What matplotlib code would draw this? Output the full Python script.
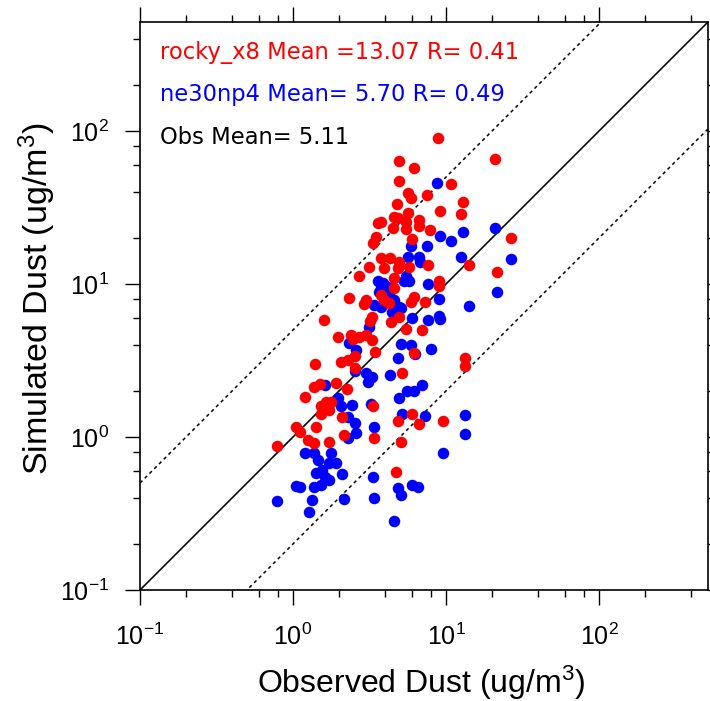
import matplotlib
matplotlib.use("Agg")
import matplotlib.pyplot as plt
import numpy as np
from matplotlib.ticker import LogLocator, LogFormatterSciNotation, NullFormatter

plt.rcParams['font.family'] = ['Liberation Sans', 'DejaVu Sans']
plt.rcParams['mathtext.default'] = 'regular'

# rocky_x8 (red): observed vs simulated
obs_rocky = [8.83, 21.0, 4.95, 6.21, 4.95, 10.8, 5.62, 5.91, 7.51, 12.9, 4.78, 9.14, 12.5, 5.62,
             4.59, 6.63, 6.69, 5.48, 4.83, 5.48, 7.89, 3.58, 3.76, 4.48, 3.49, 3.35, 26.7, 5.97,
             3.76, 4.30, 4.95, 3.15, 3.95, 4.83, 5.76, 7.59, 14.2, 21.4, 2.69, 4.59, 8.96, 9.04,
             4.59, 2.33, 3.00, 2.92, 3.76, 3.95, 6.21, 5.91, 7.32, 4.26, 4.91, 4.37, 1.60, 3.28,
             3.19, 5.48, 6.97, 1.96, 2.39, 2.48, 2.71, 3.00, 3.28, 3.45, 6.21, 13.2, 13.2, 1.40,
             2.06, 2.28, 2.55, 2.55, 5.16, 1.49, 1.38, 1.91, 2.25, 1.19, 1.64, 1.52, 1.77, 1.73,
             1.52, 2.09, 3.32, 6.00, 6.63, 4.83, 9.51, 1.04, 1.11, 1.41, 1.25, 1.38, 1.71, 2.16,
             3.40, 5.08, 0.782, 4.71]
sim_rocky = [89.6, 65.9, 63.7, 57.5, 47.3, 44.8, 39.2, 36.6, 38.2, 34.5, 33.3, 30.1, 28.5, 29.0,
             27.5, 26.2, 24.0, 25.3, 26.9, 22.9, 22.6, 24.9, 25.3, 23.1, 20.4, 18.4, 20.0, 19.8,
             14.7, 14.7, 14.0, 13.0, 12.7, 12.7, 12.9, 13.3, 13.3, 12.0, 11.3, 10.9, 10.5, 9.70,
             9.37, 8.07, 7.86, 7.37, 8.47, 7.86, 8.22, 7.66, 7.66, 7.48, 6.11, 5.67, 5.82, 6.11,
             5.73, 5.08, 5.00, 4.52, 4.64, 4.35, 4.52, 4.64, 4.31, 3.61, 3.52, 3.27, 2.91, 3.00,
             3.08, 3.19, 3.38, 2.81, 2.63, 2.22, 2.11, 2.26, 2.05, 1.83, 1.70, 1.59, 1.70, 1.49,
             1.41, 1.36, 1.59, 1.41, 1.22, 1.28, 1.28, 1.16, 1.07, 1.17, 0.956, 0.910, 0.932, 1.03,
             0.98, 0.932, 0.873, 0.591]

# ne30np4 (blue): observed vs simulated
obs_ne30 = [8.73, 21.0, 12.9, 9.14, 10.8, 7.51, 5.91, 5.62, 6.63, 6.76, 12.5, 26.7, 5.48, 5.71,
            5.34, 7.59, 3.86, 4.16, 3.58, 3.76, 3.63, 3.95, 3.40, 3.76, 4.26, 4.44, 21.4, 9.04,
            14.2, 4.91, 4.59, 5.08, 6.00, 7.59, 8.96, 9.14, 3.15, 2.33, 2.58, 5.08, 5.91, 7.98,
            6.30, 4.83, 2.55, 3.00, 3.28, 3.08, 4.32, 1.63, 6.97, 6.21, 5.53, 4.91, 1.96, 2.06,
            2.43, 3.24, 5.16, 7.32, 13.2, 2.28, 2.55, 2.58, 2.28, 3.40, 13.2, 1.19, 1.38, 1.45,
            1.77, 1.73, 1.91, 9.51, 2.09, 1.41, 1.55, 1.63, 1.73, 3.32, 1.04, 1.11, 1.52, 1.38,
            6.00, 6.53, 4.83, 5.08, 0.782, 1.33, 2.16, 3.40, 1.27, 4.57]
sim_ne30 = [45.5, 23.2, 21.8, 20.5, 19.1, 17.8, 17.8, 15.1, 14.9, 14.0, 15.0, 14.6, 11.2, 10.4,
            10.4, 9.95, 10.1, 9.60, 10.5, 9.46, 8.91, 8.26, 7.29, 7.11, 8.69, 6.59, 8.87, 7.98,
            7.21, 7.11, 7.86, 6.93, 5.97, 5.82, 6.21, 5.91, 5.26, 4.10, 3.70, 4.05, 3.99, 3.74,
            3.49, 3.27, 2.71, 2.61, 2.48, 2.30, 2.55, 2.19, 2.19, 2.01, 2.01, 1.79, 1.79, 1.59,
            1.62, 1.64, 1.41, 1.37, 1.39, 1.35, 1.24, 1.06, 0.98, 1.17, 1.05, 0.782, 0.789, 0.708,
            0.782, 0.679, 0.679, 0.782, 0.573, 0.579, 0.609, 0.550, 0.524, 0.545, 0.479, 0.473,
            0.486, 0.469, 0.486, 0.469, 0.462, 0.418, 0.384, 0.388, 0.392, 0.397, 0.325, 0.284]

labels = ["rocky_x8 Mean =13.07 R= 0.41", "ne30np4 Mean= 5.70 R= 0.49", "Obs Mean= 5.11"]
label_colors = ["red", "blue", "black"]
lims = [0.1, 515.0]
ratio_lines = [1.0, 5.0, 0.2]

fig = plt.figure(figsize=(7.10, 7.01), dpi=100)
ax = fig.add_axes([140/710, 1 - 590/701, 568/710, 568/701])
ax.set_xscale('log')
ax.set_yscale('log')
ax.set_xlim(lims)
ax.set_ylim(lims)

xx = np.array(lims)
for r in ratio_lines:
    if r == 1.0:
        ax.plot(xx, xx * r, color='black', lw=1.2, zorder=1)
    else:
        ax.plot(xx, xx * r, color='black', lw=1.1, ls=(0, (2.2, 2.2)), zorder=1)

ax.plot(obs_ne30, sim_ne30, 'o', color='blue', ms=8.3, mec='none', zorder=2, clip_on=False)
ax.plot(obs_rocky, sim_rocky, 'o', color='red', ms=8.3, mec='none', zorder=3, clip_on=False)

for i, (t, c) in enumerate(zip(labels, label_colors)):
    ax.text(20/568, 1 - (30 + 43 * i) / 568, t, color=c, fontsize=16.3,
            family=['DejaVu Sans'], transform=ax.transAxes, ha='left', va='center')

ax.xaxis.set_major_locator(LogLocator(base=10, numticks=10))
ax.yaxis.set_major_locator(LogLocator(base=10, numticks=10))
ax.xaxis.set_minor_locator(LogLocator(base=10, subs=[2, 4, 6, 8], numticks=10))
ax.yaxis.set_minor_locator(LogLocator(base=10, subs=[2, 4, 6, 8], numticks=10))
ax.xaxis.set_major_formatter(LogFormatterSciNotation())
ax.yaxis.set_major_formatter(LogFormatterSciNotation())
ax.xaxis.set_minor_formatter(NullFormatter())
ax.yaxis.set_minor_formatter(NullFormatter())
ax.tick_params(which='both', direction='out', top=True, right=True, width=1.0, color='black')
ax.tick_params(which='major', length=10.5, labelsize=18)
ax.tick_params(axis='x', which='major', pad=14)
ax.tick_params(axis='y', which='major', pad=12)
ax.tick_params(which='minor', length=5)
for s in ax.spines.values():
    s.set_linewidth(1.2)

ax.set_xlabel('Observed Dust (ug/m$^3$)', fontsize=23.0)
ax.xaxis.set_label_coords(0.496, (590 - 693) / 568)
ax.xaxis.label.set_va('baseline')
ax.set_ylabel('Simulated Dust (ug/m$^3$)', fontsize=24.5)
ax.yaxis.set_label_coords((58 - 140) / 568, 0.512)

fig.savefig('out.png', dpi=100)
